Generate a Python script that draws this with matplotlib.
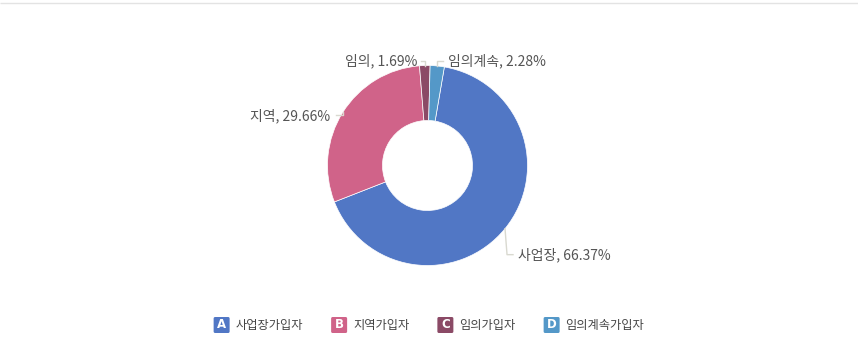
import matplotlib
matplotlib.use("Agg")
import matplotlib.pyplot as plt
from matplotlib.patches import FancyBboxPatch
import numpy as np

plt.rcParams['font.family'] = ['Noto Sans CJK KR', 'DejaVu Sans']

# Subscriber shares (%)
categories = ['사업장가입자', '지역가입자', '임의가입자', '임의계속가입자']
short_names = ['사업장', '지역', '임의', '임의계속']
shares = [66.37, 29.66, 1.69, 2.28]
letters = ['A', 'B', 'C', 'D']
colors = ['#5177C5', '#D06389', '#8B4A66', '#5498C8']

W, H = 858, 364
DPI = 100
fig = plt.figure(figsize=(W / DPI, H / DPI), dpi=DPI)
ax = fig.add_axes([0, 0, 1, 1])

# Pixel-based coordinate system (y pointing up)
cx, cy, R, r_in = 427.5, H - 165.5, 100, 45

# The last slice starts just past 12 o'clock, the rest follow clockwise
start = 90 - 360 * shares[-1] / sum(shares) - 1.5
wedges, _ = ax.pie(shares, colors=colors, startangle=start, counterclock=False,
                   center=(cx, cy), radius=R,
                   wedgeprops=dict(width=R - r_in, edgecolor='white', linewidth=0.5))
ax.set_xlim(0, W)
ax.set_ylim(0, H)
ax.set_aspect('auto')
ax.axis('off')

# Thin rule along the top edge
ax.plot([0, W], [H - 2.5, H - 2.5], color='#e3e3e3', lw=1.0, solid_capstyle='butt')

# Leader-line layout per slice: elbow offset, horizontal run, text gap (pixels)
label_style = {
    0: dict(elbow=(2, -26), run=6, gap=5, ha='left'),
    1: dict(elbow=(0, -3), run=-7, gap=-6, ha='right'),
    2: dict(elbow=(0, 5), run=-4, gap=-3, ha='right'),
    3: dict(elbow=(0, 5), run=6, gap=5, ha='left'),
}
line_color = '#d9d9d0'
text_color = '#555555'
for i, w in enumerate(wedges):
    mid = np.deg2rad((w.theta1 + w.theta2) / 2)
    x0, y0 = cx + R * np.cos(mid), cy + R * np.sin(mid)
    st = label_style[i]
    x1, y1 = x0 + st['elbow'][0], y0 + st['elbow'][1]
    x2 = x1 + st['run']
    ax.plot([x0, x1, x2], [y0, y1, y1], color=line_color, lw=1.0)
    ax.text(x2 + st['gap'], y1, f"{short_names[i]}, {shares[i]:.2f}%",
            ha=st['ha'], va='center', fontsize=10, color=text_color)

# Legend with lettered badges, centred horizontally
fig.canvas.draw()
renderer = fig.canvas.get_renderer()
box, gap_txt, gap_item, leg_y = 16, 6, 28, H - 325
items = []
for name in categories:
    t = ax.text(0, leg_y, name, ha='left', va='center', fontsize=8.8, color='#444444')
    width = t.get_window_extent(renderer).width
    items.append((t, width))
total = sum(box + gap_txt + wdt for _, wdt in items) + gap_item * (len(items) - 1)
x = (W - total) / 2
for (t, wdt), letter, col in zip(items, letters, colors):
    badge = FancyBboxPatch((x + 1.5, leg_y - box / 2 + 1.5), box - 3, box - 3,
                           boxstyle='round,pad=1.5', fc=col, ec='none')
    ax.add_patch(badge)
    ax.text(x + box / 2, leg_y, letter, ha='center', va='center',
            fontsize=8.5, fontweight='bold', color='white', family='DejaVu Sans')
    t.set_x(x + box + gap_txt)
    x += box + gap_txt + wdt + gap_item

fig.savefig('out.png', dpi=DPI, facecolor='white')
